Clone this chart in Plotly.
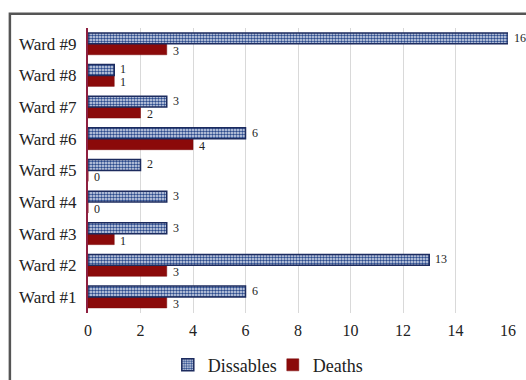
import plotly.graph_objects as go

wards = ["Ward #1", "Ward #2", "Ward #3", "Ward #4", "Ward #5",
         "Ward #6", "Ward #7", "Ward #8", "Ward #9"]
dissables = [6, 13, 3, 3, 2, 6, 3, 1, 16]
deaths = [3, 3, 1, 0, 0, 4, 2, 1, 3]
x_ticks = [0, 2, 4, 6, 8, 10, 12, 14, 16]

serif = "Liberation Serif"

fig = go.Figure()

# Deaths added first so it sits below Dissables within each group
fig.add_trace(go.Bar(
    y=wards, x=deaths, name="Deaths", orientation="h",
    marker=dict(color="#8b0a0a", line=dict(color="#7a0808", width=0.5)),
    legendrank=2,
))
fig.add_trace(go.Bar(
    y=wards, x=dissables, name="Dissables", orientation="h",
    marker=dict(
        color="#2b4a8c",
        line=dict(color="#1c2b5e", width=1.5),
        pattern=dict(shape=".", bgcolor="#dfe5f2", fgcolor="#2b4a8c",
                     size=3, solidity=0.55, fillmode="replace"),
    ),
    legendrank=1,
))

# value labels just past the end of each bar
labels = []
for w, v in zip(wards, dissables):
    labels.append(dict(x=v, y=w, text=str(v), showarrow=False,
                       xanchor="left", xshift=4, yshift=6,
                       font=dict(family=serif, size=12, color="#222")))
for w, v in zip(wards, deaths):
    labels.append(dict(x=v, y=w, text=str(v), showarrow=False,
                       xanchor="left", xshift=4, yshift=-7,
                       font=dict(family=serif, size=12, color="#222")))

fig.update_layout(
    width=526, height=380,
    margin=dict(l=88, r=18, t=28, b=67, autoexpand=False),
    paper_bgcolor="white", plot_bgcolor="white",
    barmode="group", bargap=0.31, bargroupgap=0,
    font=dict(family=serif, size=16, color="#222"),
    showlegend=True,
    legend=dict(orientation="h", x=0.44, xanchor="center",
                y=-0.118, yanchor="top", font=dict(family=serif, size=18),
                itemwidth=30, entrywidth=60, tracegroupgap=0),
    xaxis=dict(range=[0, 16], tickvals=x_ticks, showgrid=True,
               gridcolor="#d9d9d9", gridwidth=1, zeroline=False,
               tickfont=dict(family=serif, size=16), ticks="",
               ticklabelstandoff=6,
               showline=False, automargin=False),
    yaxis=dict(showline=True, linecolor="#8e2040", linewidth=2,
               tickfont=dict(family=serif, size=17), ticks="",
               ticklabelstandoff=6, automargin=False),
    annotations=labels,
    shapes=[dict(type="rect", xref="paper", yref="paper",
                 x0=-0.186, x1=1.2, y0=-0.5, y1=1.05,
                 line=dict(color="#555", width=2.5), layer="below")],
)

fig.write_html("out.html")
